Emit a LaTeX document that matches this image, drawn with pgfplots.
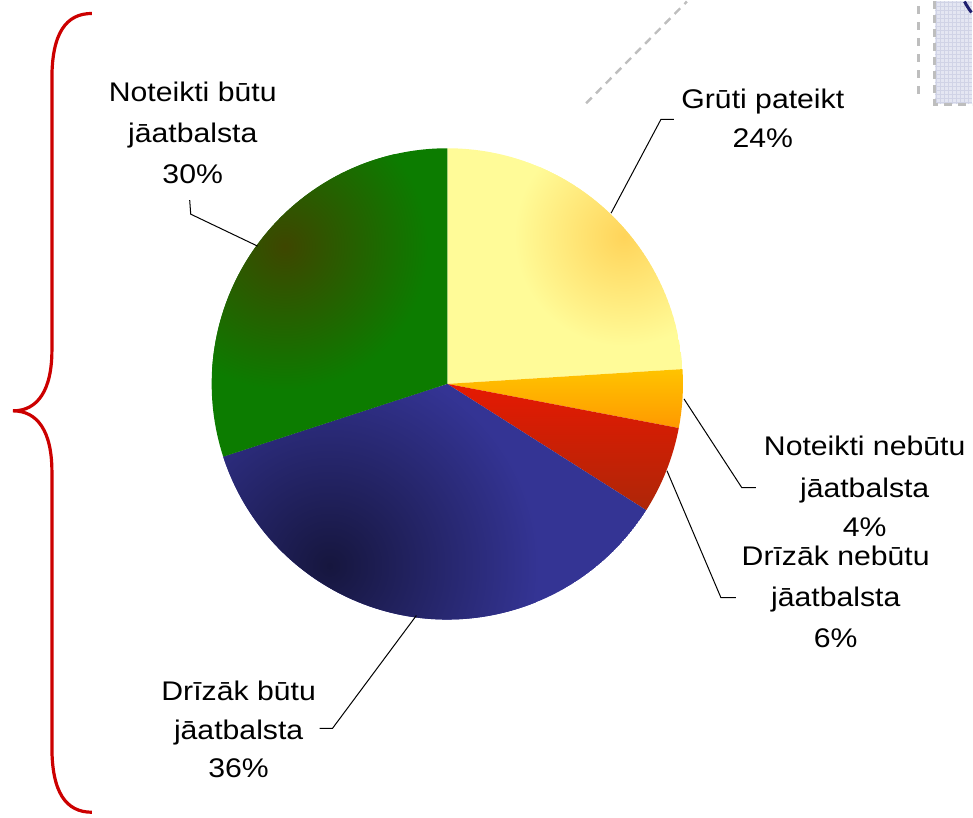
\documentclass[border=0pt]{standalone}
\usepackage{pgfplots}
\pgfplotsset{compat=1.18}
\usepackage{pgfplotstable}
\usepackage{fontspec}
\setmainfont{Liberation Sans}

\definecolor{yin}{RGB}{255,212,90}
\definecolor{yout}{RGB}{255,251,152}
\definecolor{otop}{RGB}{255,205,0}
\definecolor{obot}{RGB}{255,140,0}
\definecolor{rtop}{RGB}{250,20,0}
\definecolor{rbot}{RGB}{148,45,10}
\definecolor{bin}{RGB}{22,22,62}
\definecolor{bout}{RGB}{52,52,148}
\definecolor{gin}{RGB}{62,70,0}
\definecolor{gout}{RGB}{12,124,0}
\definecolor{bracered}{RGB}{204,0,0}
\definecolor{dashgrey}{RGB}{190,190,190}
\definecolor{boxfill}{RGB}{228,230,242}
\definecolor{boxgrid}{RGB}{208,211,230}
\definecolor{navy}{RGB}{30,30,110}

\pgfplotstableread{
label pct
G 24
NN 4
DN 6
DB 36
NB 30
}\piedata

\newcommand\slicepath[2]{(axis cs:448,434) -- ([shift={(#1:118pt)}]axis cs:448,434) arc[start angle=#1, end angle=#2, radius=118pt] -- cycle}
\newcommand\lab[3]{\node[anchor=base,xscale=1.12,inner sep=0pt,font=\fontsize{13.5}{16}\selectfont] at (axis cs:#1,#2) {#3};}

\begin{document}
\begin{tikzpicture}
\pgfmathsetmacro\aO{90}
\pgfplotstablegetelem{0}{pct}\of\piedata \pgfmathsetmacro\aA{\aO-3.6*\pgfplotsretval}
\pgfplotstablegetelem{1}{pct}\of\piedata \pgfmathsetmacro\aB{\aA-3.6*\pgfplotsretval}
\pgfplotstablegetelem{2}{pct}\of\piedata \pgfmathsetmacro\aC{\aB-3.6*\pgfplotsretval}
\pgfplotstablegetelem{3}{pct}\of\piedata \pgfmathsetmacro\aD{\aC-3.6*\pgfplotsretval}
\pgfplotstablegetelem{4}{pct}\of\piedata \pgfmathsetmacro\aE{\aD-3.6*\pgfplotsretval}
\begin{axis}[x=0.5pt, y=0.5pt, xmin=0, xmax=973, ymin=0, ymax=817,
  hide axis, clip=false, scale only axis]
\path (axis cs:0,0) rectangle (axis cs:973,817);
% top-right decoration
\fill[boxfill] (axis cs:936,714) rectangle (axis cs:973,817);
\pgfplotsinvokeforeach{0,...,8}{\draw[boxgrid, line width=0.4pt] (axis cs:{938+4*#1},714) -- (axis cs:{938+4*#1},817);}
\pgfplotsinvokeforeach{0,...,25}{\draw[boxgrid, line width=0.4pt] (axis cs:936,{716+4*#1}) -- (axis cs:973,{716+4*#1});}
\draw[dashgrey, line width=1.2pt, dash pattern=on 4pt off 3pt] (axis cs:936,817) -- (axis cs:936,714) -- (axis cs:973,714);
\addplot[dashgrey, line width=1.2pt, dash pattern=on 4pt off 4pt] coordinates {(920,812) (920,718)};
\draw[navy, line width=1.5pt] (axis cs:966,817) .. controls (axis cs:968,813) and (axis cs:970,810) .. (axis cs:973,806);
\addplot[dashgrey, line width=1.2pt, dash pattern=on 4pt off 3pt] coordinates {(587,715) (688,817)};
% brace
\draw[bracered, line width=1.6pt] (axis cs:92,805) .. controls (axis cs:66,805) and (axis cs:52,785) .. (axis cs:52,740)
  -- (axis cs:52,468) .. controls (axis cs:52,428) and (axis cs:38,407) .. (axis cs:13,407)
  .. controls (axis cs:38,407) and (axis cs:52,386) .. (axis cs:52,346)
  -- (axis cs:52,70) .. controls (axis cs:52,25) and (axis cs:66,5) .. (axis cs:92,5);
% pie slices
\begin{scope}
\clip \slicepath{\aO}{\aA};
\fill[yout] \slicepath{\aO}{\aA};
\shade[inner color=yin, outer color=yout] (axis cs:625,582) circle[radius=55pt];
\end{scope}
\begin{scope}
\clip \slicepath{\aA}{\aB};
\shade[top color=otop, bottom color=obot] (axis cs:440,372) rectangle (axis cs:700,462);
\end{scope}
\begin{scope}
\clip \slicepath{\aB}{\aC};
\shade[top color=rtop, bottom color=rbot] (axis cs:440,250) rectangle (axis cs:700,480);
\end{scope}
\begin{scope}
\clip \slicepath{\aC}{\aD};
\fill[bout] \slicepath{\aC}{\aD};
\shade[inner color=bin, outer color=bout] (axis cs:330,252) circle[radius=105pt];
\end{scope}
\begin{scope}
\clip \slicepath{\aD}{\aE};
\fill[gout] \slicepath{\aD}{\aE};
\shade[inner color=gin, outer color=gout] (axis cs:285,572) circle[radius=72pt];
\end{scope}
% leader lines
\addplot[black, line width=0.5pt] coordinates {(190,618) (191,604) (258,572)};
\addplot[black, line width=0.5pt] coordinates {(675,699) (662,699) (612,605)};
\addplot[black, line width=0.5pt] coordinates {(685,419) (743,330) (757,330)};
\addplot[black, line width=0.5pt] coordinates {(668,347) (722,220) (737,220)};
\addplot[black, line width=0.5pt] coordinates {(417,202) (333,89) (320,89)};
% labels
\lab{193}{717}{Noteikti būtu}
\lab{193}{676}{jāatbalsta}
\lab{193}{635}{30\%}
\lab{764}{710}{Grūti pateikt}
\lab{764}{671}{24\%}
\lab{866}{362}{Noteikti nebūtu}
\lab{866}{320}{jāatbalsta}
\lab{866}{281}{4\%}
\lab{837}{252}{Drīzāk nebūtu}
\lab{837}{211}{jāatbalsta}
\lab{837}{170}{6\%}
\lab{239}{117}{Drīzāk būtu}
\lab{239}{78}{jāatbalsta}
\lab{239}{40}{36\%}
\end{axis}
\end{tikzpicture}
\end{document}
